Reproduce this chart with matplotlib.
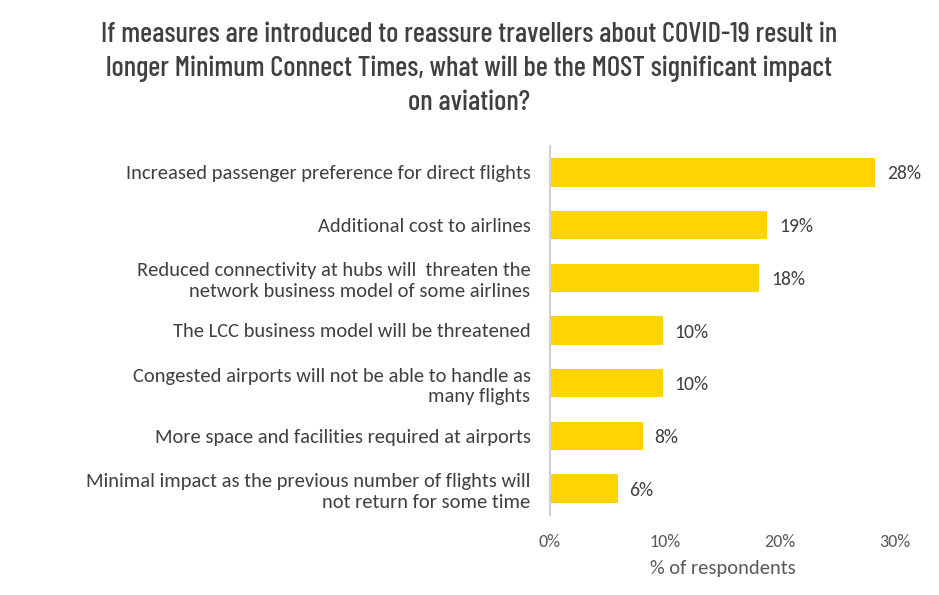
import matplotlib
matplotlib.use('Agg')
import matplotlib.pyplot as plt
from matplotlib.ticker import FuncFormatter

# Survey answers, top to bottom
categories = [
    'Increased passenger preference for direct flights',
    'Additional cost to airlines',
    'Reduced connectivity at hubs will  threaten the\nnetwork business model of some airlines',
    'The LCC business model will be threatened',
    'Congested airports will not be able to handle as\nmany flights',
    'More space and facilities required at airports',
    'Minimal impact as the previous number of flights will\nnot return for some time',
]
values = [28.3, 18.9, 18.2, 9.8, 9.8, 8.1, 5.9]
value_labels = ['28%', '19%', '18%', '10%', '10%', '8%', '6%']
x_ticks = [0, 10, 20, 30]

title = ('If measures are introduced to reassure travellers about COVID-19 result in\n'
         'longer Minimum Connect Times, what will be the MOST significant impact\n'
         'on aviation?')

bar_color = '#FFD500'
text_color = '#404040'
body_font = ['Carlito', 'DejaVu Sans']

fig = plt.figure(figsize=(9.39, 5.95), dpi=100)
ax = fig.add_axes([0.5857, 0.1345, 0.3674, 0.6201])

pos = list(range(len(categories)))
ax.barh(pos, values, height=0.54, color=bar_color)
ax.set_ylim(len(categories) - 0.5, -0.5)
ax.set_xlim(0, 30)

for y, v, lab in zip(pos, values, value_labels):
    ax.text(v + 1.0, y + 0.03, lab, va='center', ha='left', fontsize=14.2,
            color=text_color, family=body_font)

ax.set_yticks(pos)
ax.set_yticklabels(categories, fontsize=14.8, color=text_color, family=body_font,
                   linespacing=1.25)
ax.tick_params(axis='y', length=0, pad=14)

ax.set_xticks(x_ticks)
ax.xaxis.set_major_formatter(FuncFormatter(lambda x, _: f'{x:.0f}%'))
ax.tick_params(axis='x', length=0, pad=14, labelsize=13, labelcolor='#595959')
for t in ax.get_xticklabels():
    t.set_family(body_font)
ax.set_xlabel('% of respondents', fontsize=14.8, color='#595959', family=body_font,
              labelpad=7)

for s in ['top', 'right', 'bottom']:
    ax.spines[s].set_visible(False)
ax.spines['left'].set_color('#d0d0d0')
ax.spines['left'].set_linewidth(1.5)

fig.text(0.5, 0.963, title, ha='center', va='top', fontsize=20.6, color='#404040',
         family=['Barlow Condensed', 'DejaVu Sans'], fontweight='medium',
         linespacing=1.37)

plt.savefig('out.png', dpi=100)
